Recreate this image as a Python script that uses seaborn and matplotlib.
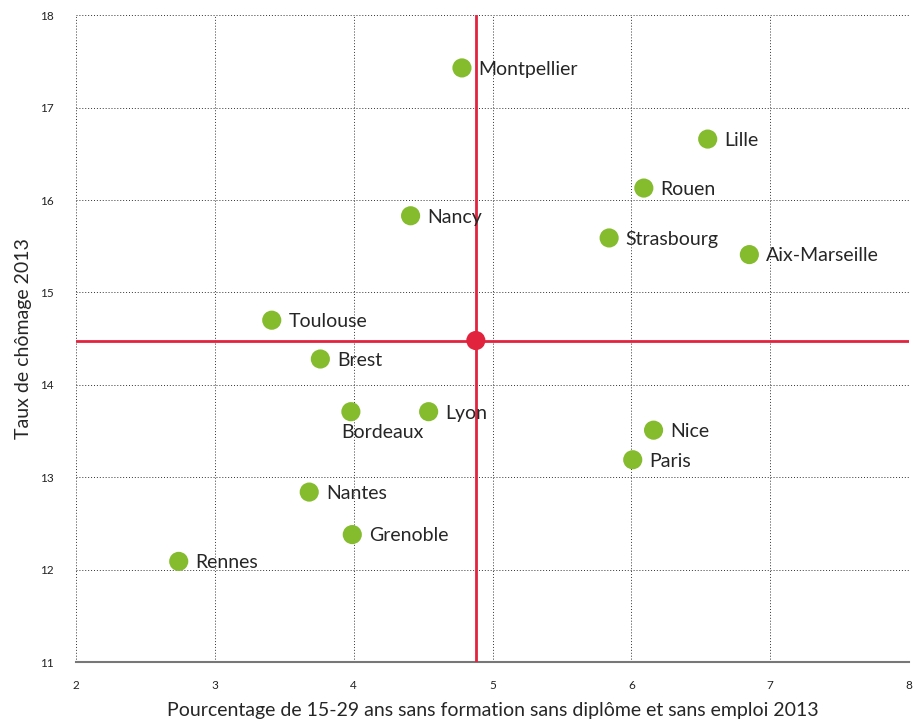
import numpy as np
import pandas as pd
import seaborn as sns
import matplotlib.pyplot as plt

# Data
cities = ["Montpellier", "Lille", "Rouen", "Nancy", "Strasbourg", "Aix-Marseille",
          "Toulouse", "Brest", "Bordeaux", "Lyon", "Nice", "Paris",
          "Nantes", "Grenoble", "Rennes"]
sans_emploi = [4.78, 6.55, 6.09, 4.41, 5.84, 6.85,
               3.41, 3.76, 3.98, 4.54, 6.16, 6.01,
               3.68, 3.99, 2.74]
chomage = [17.43, 16.66, 16.13, 15.83, 15.59, 15.41,
           14.70, 14.28, 13.71, 13.71, 13.51, 13.19,
           12.84, 12.38, 12.09]
mean_x = 4.88
mean_y = 14.48

df = pd.DataFrame({"ville": cities, "x": sans_emploi, "y": chomage})

sns.set_style("white")
plt.rcParams['font.family'] = ['Lato', 'DejaVu Sans']

fig = plt.figure(figsize=(9.21, 7.26), dpi=100)
ax = fig.add_axes([0.0825, 0.088, 0.9045, 0.891])

GREEN = "#84bc2e"
RED = "#e2233d"

ax.axvline(mean_x, color=RED, lw=2, zorder=3)
ax.axhline(mean_y, color=RED, lw=2, zorder=3)
sns.scatterplot(data=df, x="x", y="y", color=GREEN, s=190, edgecolor="none", ax=ax, zorder=4)
ax.scatter([mean_x], [mean_y], color=RED, s=190, edgecolor="none", zorder=5)

for _, r in df.iterrows():
    if r["ville"] == "Bordeaux":
        # label sits under its dot in the original
        ax.annotate(r["ville"], (r["x"], r["y"]), xytext=(-7, -15), textcoords="offset points",
                    fontsize=14, va="center", ha="left", zorder=6)
    else:
        ax.annotate(r["ville"], (r["x"], r["y"]), xytext=(12, -1), textcoords="offset points",
                    fontsize=14, va="center", ha="left", zorder=6)

ax.set_xlim(2, 8)
ax.set_ylim(11, 18)
ax.set_xticks(np.arange(2, 9, 1))
ax.set_yticks(np.arange(11, 19, 1))
ax.grid(True, color="#333333", linestyle=(0, (1, 2)), linewidth=0.7)
ax.set_axisbelow(True)

for s in ["top", "right", "left"]:
    ax.spines[s].set_visible(False)
ax.spines["bottom"].set_color("#777777")
ax.spines["bottom"].set_linewidth(1.5)
ax.tick_params(axis="both", length=0, labelsize=8.5, colors="#222222")
ax.tick_params(axis="x", pad=13)
ax.tick_params(axis="y", pad=16)

ax.set_xlabel("Pourcentage de 15-29 ans sans formation sans diplôme et sans emploi 2013",
              fontsize=14, labelpad=8)
ax.set_ylabel("Taux de chômage 2013", fontsize=14, labelpad=6)

plt.savefig("out.png", dpi=100)
plt.close()
